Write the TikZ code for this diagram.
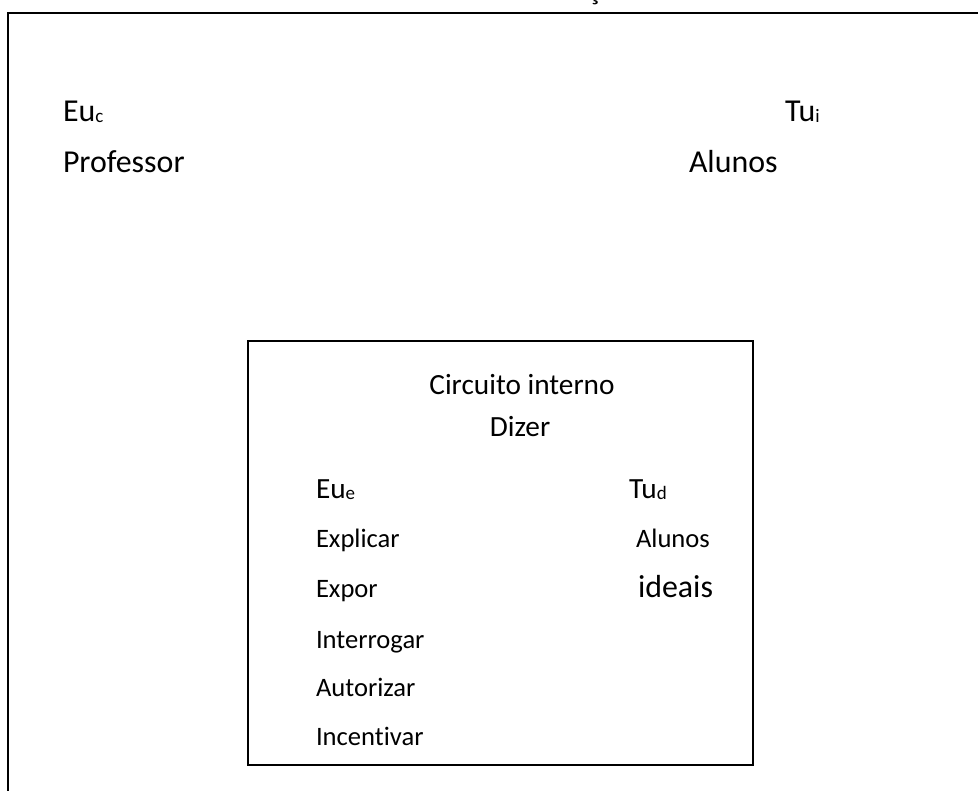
\documentclass[tikz,border=0pt]{standalone}
\usepackage{fontspec}
\setmainfont[Ligatures=NoCommon]{Carlito}
\newcommand{\twelve}{\fontsize{31.9bp}{36bp}\selectfont}
\newcommand{\eleven}{\fontsize{29.3bp}{34bp}\selectfont}
\newcommand{\ten}{\fontsize{26.6bp}{30bp}\selectfont}
\newcommand{\subsz}{\fontsize{19bp}{22bp}\selectfont}
\newcommand{\sbs}[1]{{\subsz\raisebox{-1bp}{#1}}}
\begin{document}
\begin{tikzpicture}[x=1bp,y=-1bp,
  lbl/.style={anchor=base west,inner sep=0pt,outer sep=0pt},
  lblc/.style={anchor=base,inner sep=0pt,outer sep=0pt},
  frame/.style={line width=2bp,black},
  innerbox/.style={draw,line width=1.8bp,black}]
\useasboundingbox (0,0) rectangle (978,791);
% outer frame (cut off at right and bottom)
\coordinate (ftl) at (8,13);
\coordinate (fbl) at (8,795);
\coordinate (ftr) at (982,13);
\draw[frame] (fbl) -- (ftl) -- (ftr);
% cut-off title glyph at top
\node[lblc] (title) at (594,-0.5) {\twelve ç};
% outer labels
\node[lbl] (euc) at (63,121) {\twelve Eu\sbs{c}};
\node[lbl] (prof) at (63,172) {\twelve Professor};
\node[lbl] (tui) at (785,121) {\twelve Tu\sbs{i}};
\node[lbl] (alunos) at (689,172) {\twelve Alunos};
% inner box
\node[innerbox,minimum width=505bp,minimum height=424bp,anchor=north west,inner sep=0pt] (box) at (247,340) {};
\node[lblc] (circ) at (522,394) {\eleven Circuito interno};
\node[lblc] (dizer) at (520,436) {\eleven Dizer};
\node[lbl] (eue) at (316,498) {\eleven Eu\sbs{e}};
\node[lbl] (tud) at (629,498) {\eleven Tu\sbs{d}};
\node[lbl] (expl) at (316,547) {\ten Explicar};
\node[lbl] (alun2) at (636,547) {\ten Alunos};
\node[lbl] (expor) at (316,597) {\ten Expor};
\node[lbl] (ideais) at (638,597) {\twelve ideais};
\node[lbl] (interr) at (316,648) {\ten Interrogar};
\node[lbl] (autor) at (316,696) {\ten Autorizar};
\node[lbl] (incent) at (316,745) {\ten Incentivar};
\end{tikzpicture}
\end{document}
